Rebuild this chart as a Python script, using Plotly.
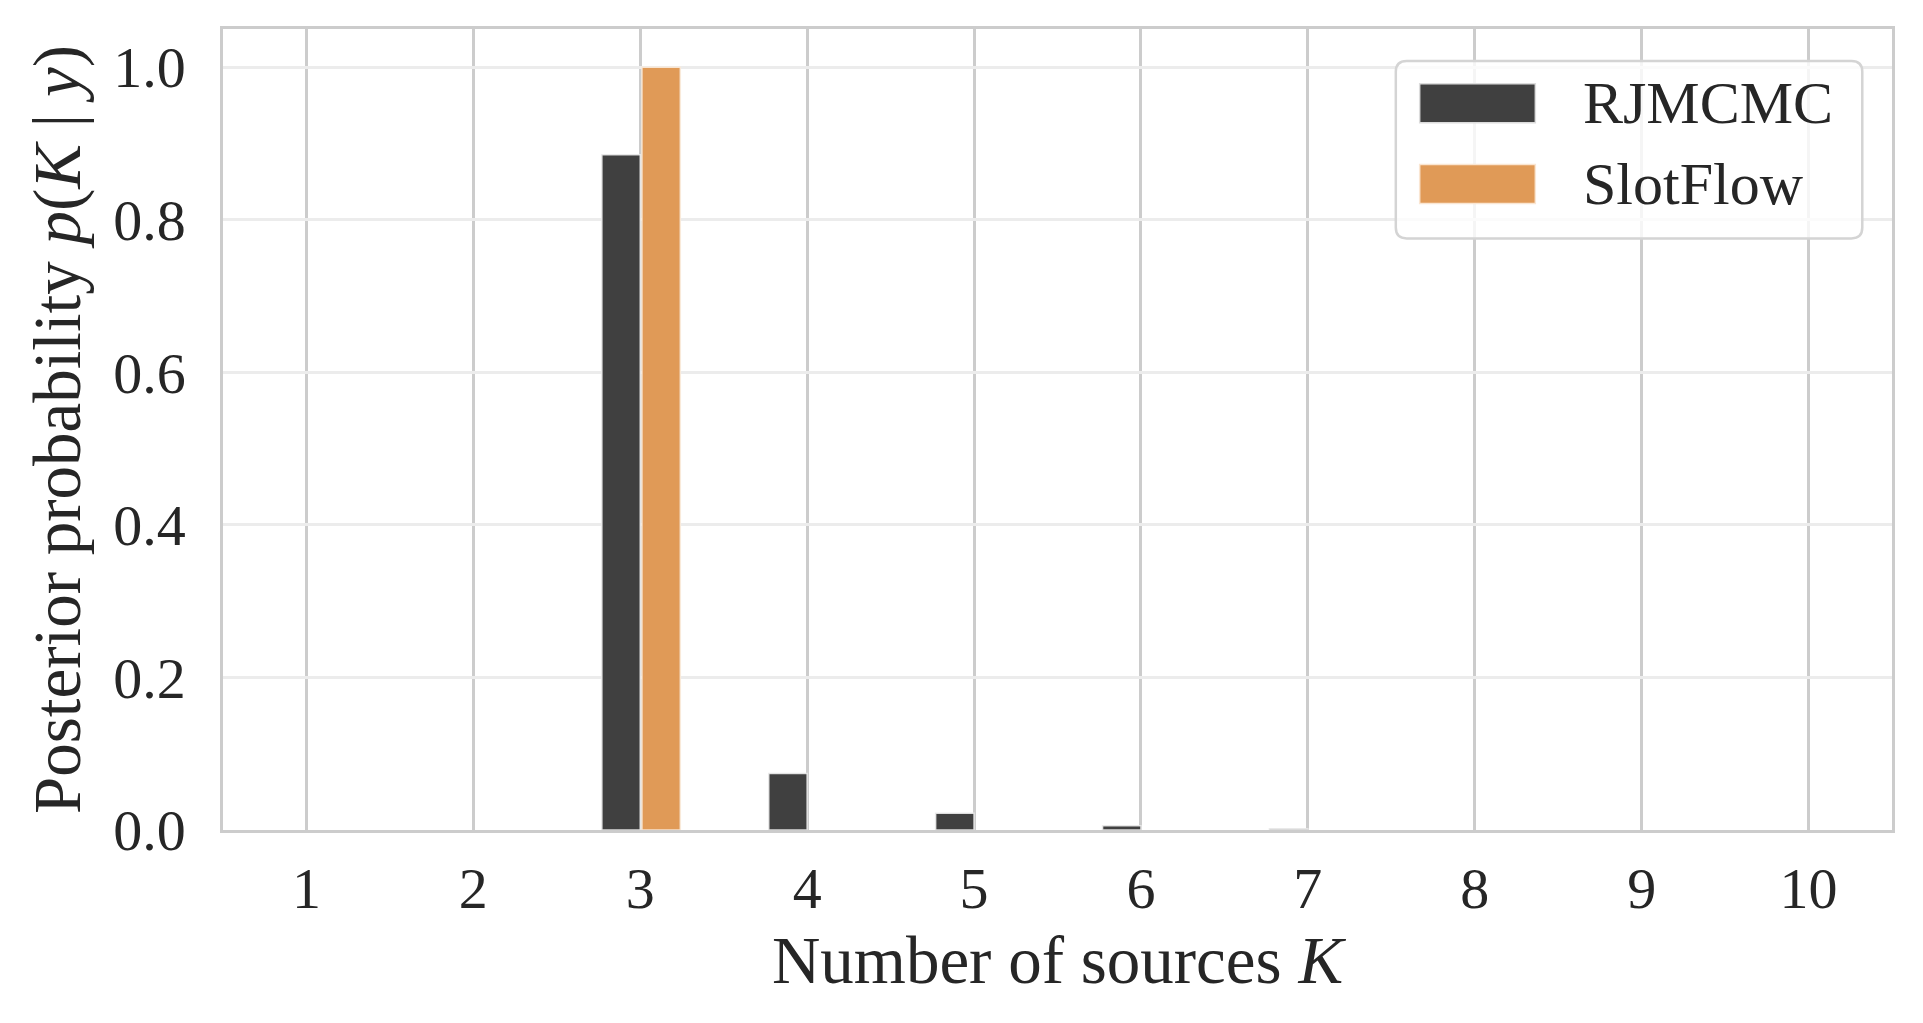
import plotly.graph_objects as go

# ---- data ----
K_values = [1, 2, 3, 4, 5, 6, 7, 8, 9, 10]
rjmcmc_prob = [0.0, 0.0, 0.885, 0.074, 0.022, 0.0055, 0.0015, 0.0, 0.0, 0.0]
slotflow_prob = [0.0, 0.0, 1.0, 0.0, 0.0, 0.0, 0.0, 0.0, 0.0, 0.0]
series_names = ["RJMCMC", "SlotFlow"]
y_ticks = [0.0, 0.2, 0.4, 0.6, 0.8, 1.0]

# ---- style ----
FONT = "Liberation Serif"
TEXT = "#262626"
COL_RJ = "#404040"
COL_SF = "#e09a57"
BAR_W = 0.23


def nz(vals):
    return [v if v > 0 else None for v in vals]


fig = go.Figure()
fig.add_trace(go.Bar(
    x=K_values, y=nz(rjmcmc_prob), name=series_names[0],
    width=BAR_W, offset=-BAR_W,
    marker=dict(color=COL_RJ, line=dict(color="rgba(235,235,235,0.9)", width=1.5)),
    showlegend=False,
))
fig.add_trace(go.Bar(
    x=K_values, y=nz(slotflow_prob), name=series_names[1],
    width=BAR_W, offset=0.01,
    marker=dict(color=COL_SF, line=dict(color="rgba(250,235,220,0.9)", width=1.5)),
    showlegend=False,
))

# ---- manual legend (matplotlib-style) ----
bx0, bx1, by0, by1 = 0.7027, 0.9822, 0.7386, 0.9602
rx, ry = 0.0065, 0.0135
path = (f"M {bx0+rx},{by1} L {bx1-rx},{by1} Q {bx1},{by1} {bx1},{by1-ry} "
        f"L {bx1},{by0+ry} Q {bx1},{by0} {bx1-rx},{by0} "
        f"L {bx0+rx},{by0} Q {bx0},{by0} {bx0},{by0+ry} "
        f"L {bx0},{by1-ry} Q {bx0},{by1} {bx0+rx},{by1} Z")
shapes = [dict(type="path", xref="paper", yref="paper", path=path,
               fillcolor="rgba(255,255,255,0.8)",
               line=dict(color="#d4d4d4", width=2.5), layer="above")]
rows = [(0.9316, 0.8830, 0.9079, COL_RJ, "rgba(220,220,220,1)"),
        (0.8307, 0.7822, 0.8059, COL_SF, "rgba(250,230,210,1)")]
annotations = []
for name, (sy1, sy0, ty, col, lc) in zip(series_names, rows):
    shapes.append(dict(type="rect", xref="paper", yref="paper",
                       x0=0.7170, x1=0.7863, y0=sy0, y1=sy1,
                       fillcolor=col, line=dict(color=lc, width=1.5), layer="above"))
    annotations.append(dict(xref="paper", yref="paper", x=0.8138, y=ty,
                            xanchor="left", yanchor="middle", text=name,
                            showarrow=False, font=dict(family=FONT, size=60, color=TEXT)))

fig.update_layout(
    width=1923, height=1023,
    margin=dict(l=223, r=31, t=29, b=193),
    paper_bgcolor="white", plot_bgcolor="white",
    font=dict(family=FONT, color=TEXT, size=58),
    barmode="overlay",
    shapes=shapes, annotations=annotations,
)
fig.update_xaxes(
    range=[0.5, 10.5], tickmode="array", tickvals=K_values,
    ticktext=[str(k) for k in K_values],
    showgrid=True, gridcolor="#cccccc", gridwidth=2.5,
    showline=True, mirror=True, linecolor="#cccccc", linewidth=2.5,
    ticks="", ticklabelstandoff=6, zeroline=False,
    tickfont=dict(family=FONT, size=58, color=TEXT),
    title=dict(text="Number of sources <i>K</i>", standoff=16,
               font=dict(family=FONT, size=67, color=TEXT)),
)
fig.update_yaxes(
    range=[0, 1.05], tickmode="array", tickvals=y_ticks,
    ticktext=[f"{v:.1f}" for v in y_ticks],
    showgrid=True, gridcolor="#ececec", gridwidth=2.5,
    showline=True, mirror=True, linecolor="#cccccc", linewidth=2.5,
    ticks="", ticklabelstandoff=23, zeroline=False,
    tickfont=dict(family=FONT, size=58, color=TEXT),
    title=dict(text="Posterior probability <i>p</i>(<i>K</i> | <i>y</i>)", standoff=11,
               font=dict(family=FONT, size=67, color=TEXT)),
)

fig.write_html("out.html", config={"displayModeBar": False},
               post_script="document.body.style.margin='0';document.body.style.overflow='hidden';")
